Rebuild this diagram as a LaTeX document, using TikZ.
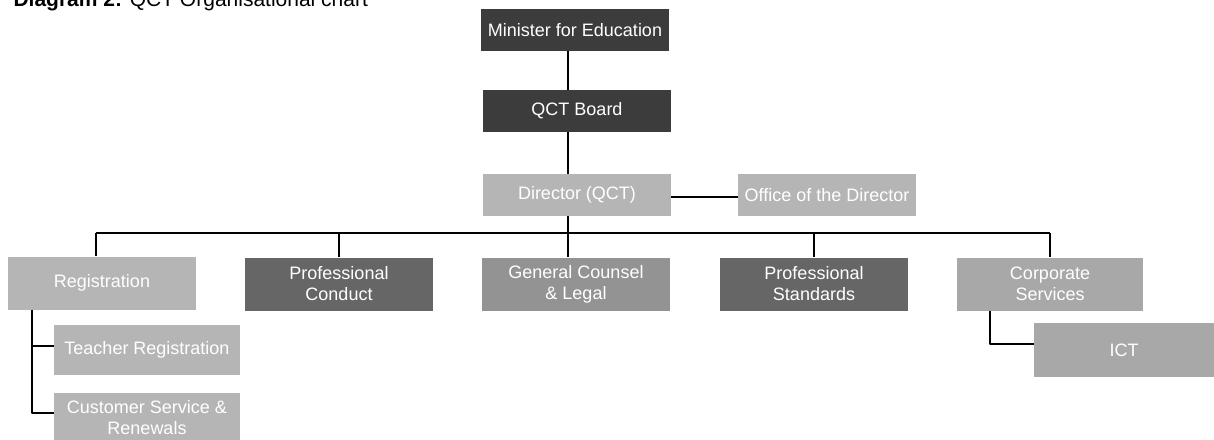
\documentclass[tikz,border=0pt]{standalone}
\usepackage{fontspec}
\setmainfont{Liberation Sans}
\definecolor{boxdark}{HTML}{3C3C3C}
\definecolor{boxmid}{HTML}{666666}
\definecolor{boxgrey}{HTML}{939393}
\definecolor{boxcorp}{HTML}{A8A8A8}
\definecolor{boxlight}{HTML}{B5B5B5}
\begin{document}
\begin{tikzpicture}[x=1pt,y=-1pt,line join=round,
    box/.style={fill=#1,text=white,inner sep=0pt,align=center,
        font=\fontsize{18}{21}\selectfont},
    flat/.style={minimum width=188pt,minimum height=42pt},
    tall/.style={minimum width=188pt,minimum height=53pt},
    link/.style={line width=2pt}]
    \useasboundingbox (0,0) rectangle (1214,439);
    \clip (0,0) rectangle (1214,439);
    \node[anchor=base west,font=\fontsize{21}{24}\selectfont] (title) at (10,6)
        {\textbf{Diagram 2:} QCT Organisational chart};
    % top of the chart
    \node[box=boxdark,flat] (min) at (575,30) {Minister for Education};
    \node[box=boxdark,flat] (board) at (577,111) {QCT Board};
    \node[box=boxlight,flat] (dir) at (577,195) {Director (QCT)};
    \node[box=boxlight,flat,minimum width=178pt] (office) at (827,195) {Office of the Director};
    % branches
    \node[box=boxlight,tall] (reg) at (102,283) {Registration};
    \node[box=boxmid,tall] (cond) at (339,284) {Professional\\Conduct};
    \node[box=boxgrey,tall] (legal) at (576,284) {General Counsel\\\& Legal};
    \node[box=boxmid,tall] (stand) at (814,284) {Professional\\Standards};
    \node[box=boxcorp,tall,minimum width=186pt] (corp) at (1050,284) {Corporate\\Services};
    \node[box=boxlight,minimum width=186pt,minimum height=50pt] (teach) at (147,350) {Teacher Registration};
    \node[box=boxlight,minimum width=186pt,minimum height=50pt] (cust) at (147,418) {Customer Service \&\\Renewals};
    \node[box=boxcorp,minimum width=180pt,minimum height=54pt] (ict) at (1124,350) {ICT};
    \coordinate (spine) at (568,0);
    \coordinate (busL) at (96,233);
    \coordinate (busR) at (1050,233);
    \coordinate (regL) at (32,0);
    \coordinate (corpL) at (990,0);
    \draw[link] (spine |- min.south) -- (spine |- board.north);
    \draw[link] (spine |- board.south) -- (spine |- dir.north);
    \draw[link] (spine |- dir.south) -- (spine |- busL);
    \draw[link] ([yshift=-2pt]dir.east) -- ([yshift=-2pt]office.west);
    \draw[link] (busL) -- (busR);
    \draw[link] (busL) -- (busL |- reg.north);
    \draw[link] (spine |- busL) -- (spine |- legal.north);
    \foreach \n in {cond,stand,corp}
        \draw[link] (\n.north |- busL) -- (\n.north);
    \draw[link] (regL |- reg.south) |- ([yshift=4pt]teach.west);
    \draw[link] (regL |- reg.south) |- ([yshift=5pt]cust.west);
    \draw[link] (corpL |- corp.south) |- ([yshift=6pt]ict.west);
\end{tikzpicture}
\end{document}
